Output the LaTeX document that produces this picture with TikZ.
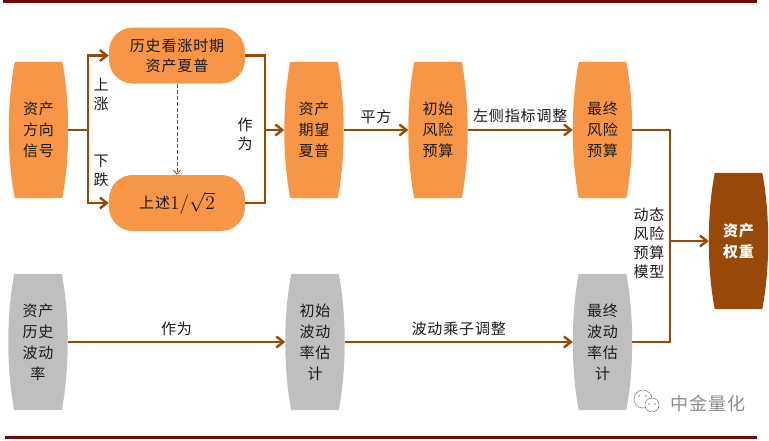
\documentclass[tikz,border=0pt]{standalone}
\usepackage{fontspec}
\newfontfamily\cjk[LetterSpace=6]{Noto Sans CJK SC}
\usetikzlibrary{arrows.meta,backgrounds}
\definecolor{cOrange}{HTML}{F79646}
\definecolor{cGray}{HTML}{BFBFBF}
\definecolor{cBrown}{HTML}{984807}
\definecolor{cLine}{HTML}{984807}
\definecolor{cRule}{RGB}{112,10,10}
\definecolor{cText}{HTML}{1A1A1A}
\definecolor{cMark}{HTML}{8C8C8C}
\newcommand\barrelfill[2]{%
  \fill[#2] ([xshift=6pt]#1.north west) -- ([xshift=-6pt]#1.north east)
    .. controls ([xshift=2pt,yshift=-40pt]#1.north east) and ([xshift=2pt,yshift=40pt]#1.south east) .. ([xshift=-6pt]#1.south east)
    -- ([xshift=6pt]#1.south west)
    .. controls ([xshift=-2pt,yshift=40pt]#1.south west) and ([xshift=-2pt,yshift=-40pt]#1.north west) .. cycle;}
\tikzset{
  barrelnode/.style={rectangle, minimum width=59pt, minimum height=136pt, inner sep=0pt, align=center,
    font=\cjk\fontsize{15}{21}\selectfont, text=cText},
  pillbox/.style={rectangle, rounded corners=24pt, fill=cOrange, minimum width=136pt, minimum height=56pt,
    inner sep=0pt, align=center, font=\cjk\fontsize{15}{20}\selectfont, text=cText},
  conn/.style={draw=cLine, line width=2.4pt},
  arr/.style={-{Straight Barb[length=7pt,width=11pt]}},
  dashline/.style={draw=cLine, line width=0.9pt, dash pattern=on 4pt off 2pt, -{Straight Barb[length=4pt,width=7pt]}},
  lbl/.style={inner sep=0pt, align=center, font=\cjk\fontsize{15}{19}\selectfont, text=cText},
}
\begin{document}
\begin{tikzpicture}[x=1pt,y=-1pt]
\useasboundingbox (0,0) rectangle (769,440);
% rules
\fill[cRule] (3,0) rectangle (757,3);
\fill[cRule] (5,436) rectangle (757,439);

% nodes, top row
\node[barrelnode] (sig) at (38.5,130) {资产\\方向\\信号};
\node[pillbox] (up) at (177,55.5) {历史看涨时期\\资产夏普};
\node[pillbox] (down) at (177,203) {上述\raisebox{-1pt}{\scalebox{1.35}{$1/\sqrt{2}$}}};
\node[barrelnode] (sharpe) at (314,130) {资产\\期望\\夏普};
\node[barrelnode] (irisk) at (438,130) {初始\\风险\\预算};
\node[barrelnode] (frisk) at (602.5,130) {最终\\风险\\预算};
\node[barrelnode, text=white, font=\cjk\bfseries\fontsize{15}{21}\selectfont] (weight) at (738.5,241) {资产\\权重};
% bottom row
\node[barrelnode] (hvol) at (38,342) {资产\\历史\\波动\\率};
\node[barrelnode] (ivol) at (315,342) {初始\\波动\\率估\\计};
\node[barrelnode] (fvol) at (602.5,342) {最终\\波动\\率估\\计};

\begin{scope}[on background layer]
  \barrelfill{sig}{cOrange}
  \barrelfill{sharpe}{cOrange}
  \barrelfill{irisk}{cOrange}
  \barrelfill{frisk}{cOrange}
  \barrelfill{weight}{cBrown}
  \barrelfill{hvol}{cGray}
  \barrelfill{ivol}{cGray}
  \barrelfill{fvol}{cGray}
\end{scope}

% coordinates
\coordinate (splitL) at (88,130);
\coordinate (joinR) at (265,130);
\coordinate (vtop) at (670,130);
\coordinate (vmid) at (670,241);
\coordinate (vbot) at (670,342);

% left split
\draw[conn] (sig.east) -- (splitL);
\draw[conn,arr] (splitL) |- (up.west);
\draw[conn,arr] (splitL) |- (down.west);
\node[lbl] (lup) at (101,94) {上\\涨};
\node[lbl] (ldown) at (101,171) {下\\跌};
\draw[dashline] (up.south) -- (down.north);

% right join
\draw[conn] (up.east) -| (joinR);
\draw[conn] (down.east) -| (joinR);
\draw[conn,arr] (joinR) -- (sharpe.west);
\node[lbl] (lzw) at (245,134) {作\\为};

% top row arrows
\draw[conn,arr] (sharpe) -- node[lbl,above=5pt]{平方} (irisk);
\draw[conn,arr] (irisk) -- node[lbl,above=6pt]{左侧指标调整} (frisk);

% bottom row arrows
\draw[conn,arr] (hvol) -- node[lbl,above=5pt]{作为} (ivol);
\draw[conn,arr] (ivol) -- node[lbl,above=5pt]{波动乘子调整} (fvol);

% merge to weight
\draw[conn] (frisk.east) -- (vtop) -- (vbot) -- (fvol.east);
\draw[conn,arr] (vmid) -- (weight.west);
\node[lbl] (lmodel) at (649,243) {动态\\风险\\预算\\模型};

% watermark
\draw[cMark, line width=0.6pt, fill=white] (643,399) circle (9);
\draw[cMark, line width=0.6pt, fill=white] (652,405) circle (7);
\fill[cMark] (639,396) circle (0.9) (646,396) circle (0.9) (649,404) circle (0.8) (655,404) circle (0.8);
\node[inner sep=0pt, font=\cjk\fontsize{18}{18}\selectfont, text=cMark] (mark) at (708,404) {中金量化};
\end{tikzpicture}
\end{document}
